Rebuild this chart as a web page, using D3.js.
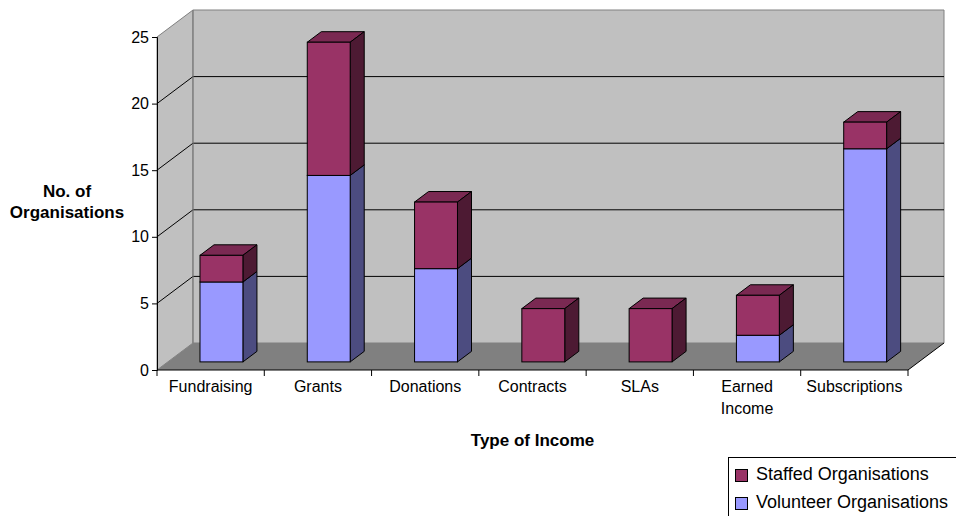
<!DOCTYPE html>
<html>
<head>
<meta charset="utf-8">
<script src="https://cdn.jsdelivr.net/npm/d3@7"></script>
<style>
  html, body { margin: 0; padding: 0; background: #fff; }
  svg { display: block; font-family: "Liberation Sans", Arial, sans-serif; }
</style>
</head>
<body>
<svg id="chart" width="956" height="516"></svg>
<script>
// Income types and number of organisations receiving each
const categories = ["Fundraising", "Grants", "Donations", "Contracts", "SLAs", "Earned Income", "Subscriptions"];
const categoryLines = [["Fundraising"], ["Grants"], ["Donations"], ["Contracts"], ["SLAs"], ["Earned", "Income"], ["Subscriptions"]];
const volunteer = [6, 14, 7, 0, 0, 2, 16];
const staffed = [2, 10, 5, 4, 4, 3, 2];
const yTicks = [0, 5, 10, 15, 20, 25];
const seriesNames = ["Staffed Organisations", "Volunteer Organisations"];

const svg = d3.select("#chart");

// plot frame (front face of the 3D box) and its depth offset
const left = 157, right = 908, floorY = 370, topY = 37;
const depthX = 36, depthY = -27;

const x = d3.scaleBand().domain(categories).range([left, right]).padding(0);
const y = d3.scaleLinear().domain([0, 25]).range([floorY, topY]);

const colors = {
  staffed: { front: "#993366", top: "#7a2952", side: "#4d1a33" },
  volunteer: { front: "#9999ff", top: "#7a7acc", side: "#4c4c80" }
};

const pts = a => a.map(p => p.join(",")).join(" ");

// walls and floor
const g = svg.append("g");
g.append("polygon")
  .attr("points", pts([[left, floorY], [left + depthX, floorY + depthY], [left + depthX, topY + depthY], [left, topY]]))
  .attr("fill", "#c0c0c0").attr("stroke", "#808080");
g.append("polygon")
  .attr("points", pts([[left + depthX, topY + depthY], [right + depthX, topY + depthY], [right + depthX, floorY + depthY], [left + depthX, floorY + depthY]]))
  .attr("fill", "#c0c0c0").attr("stroke", "#808080");
g.append("polygon")
  .attr("points", pts([[left, floorY], [right, floorY], [right + depthX, floorY + depthY], [left + depthX, floorY + depthY]]))
  .attr("fill", "#808080").attr("stroke", "none");

// gridlines on side and back wall
yTicks.filter(t => t > 0 && t < 25).forEach(t => {
  const yy = y(t);
  g.append("polyline")
    .attr("points", pts([[left, yy], [left + depthX, yy + depthY], [right + depthX, yy + depthY]]))
    .attr("fill", "none").attr("stroke", "#000").attr("stroke-width", 1);
});
// back wall corner edge
g.append("line")
  .attr("x1", left + depthX).attr("x2", left + depthX)
  .attr("y1", topY + depthY).attr("y2", floorY + depthY)
  .attr("stroke", "#808080");
// floor right edge
g.append("line")
  .attr("x1", right).attr("y1", floorY).attr("x2", right + depthX).attr("y2", floorY + depthY)
  .attr("stroke", "#000");

// y axis
const yAxis = d3.axisLeft(y).tickValues(yTicks).tickSize(5).tickPadding(3).tickFormat(d3.format("d"));
const ya = svg.append("g").attr("transform", `translate(${left},0)`).call(yAxis);
ya.select(".domain").attr("stroke", "#000");
ya.selectAll("text").attr("font-size", 16).attr("fill", "#000")
  .attr("font-family", "'Liberation Sans', Arial, sans-serif");

// x axis line with ticks at category boundaries
const xa = svg.append("g");
xa.append("line").attr("x1", left).attr("x2", right).attr("y1", floorY).attr("y2", floorY).attr("stroke", "#000");
const bounds = categories.map(c => x(c)).concat([right]);
xa.selectAll("line.tk").data(bounds).join("line").attr("class", "tk")
  .attr("x1", d => d).attr("x2", d => d).attr("y1", floorY).attr("y2", floorY + 6).attr("stroke", "#000");
xa.selectAll("text.cat").data(categories).join("text").attr("class", "cat")
  .attr("x", d => x(d) + x.bandwidth() / 2)
  .attr("y", floorY + 22)
  .attr("text-anchor", "middle").attr("font-size", 16).attr("fill", "#000")
  .each(function (d, i) {
    d3.select(this).selectAll("tspan").data(categoryLines[i]).join("tspan")
      .attr("x", x(d) + x.bandwidth() / 2)
      .attr("dy", (l, j) => j === 0 ? 0 : 22)
      .text(l => l);
  });

// 3D stacked bars
const barW = x.bandwidth() * 0.4;
const f0 = 0.3, f1 = 0.69;
const ox = depthX * f0, oy = depthY * f0;
const sx = depthX * (f1 - f0), sy = depthY * (f1 - f0);

const bars = svg.append("g");
categories.forEach((c, i) => {
  const x0 = x(c) + (x.bandwidth() - barW) / 2 + ox;
  const x1 = x0 + barW;
  const segs = [
    { v0: 0, v1: volunteer[i], col: colors.volunteer },
    { v0: volunteer[i], v1: volunteer[i] + staffed[i], col: colors.staffed }
  ];
  segs.forEach(s => {
    if (s.v1 - s.v0 <= 0) return;
    const yb = y(s.v0) + oy, yt = y(s.v1) + oy;
    bars.append("polygon")
      .attr("points", pts([[x0, yt], [x1, yt], [x1 + sx, yt + sy], [x0 + sx, yt + sy]]))
      .attr("fill", s.col.top).attr("stroke", "#000").attr("stroke-width", 1).attr("stroke-linejoin", "round");
    bars.append("polygon")
      .attr("points", pts([[x1, yb], [x1 + sx, yb + sy], [x1 + sx, yt + sy], [x1, yt]]))
      .attr("fill", s.col.side).attr("stroke", "#000").attr("stroke-width", 1).attr("stroke-linejoin", "round");
    bars.append("rect")
      .attr("x", x0).attr("y", yt).attr("width", barW).attr("height", yb - yt)
      .attr("fill", s.col.front).attr("stroke", "#000").attr("stroke-width", 1);
  });
});

// axis titles
svg.append("text").attr("x", 67).attr("y", 197).attr("text-anchor", "middle")
  .attr("font-size", 17).attr("font-weight", "bold").text("No. of");
svg.append("text").attr("x", 67).attr("y", 218).attr("text-anchor", "middle")
  .attr("font-size", 17).attr("font-weight", "bold").text("Organisations");
svg.append("text").attr("x", (left + right) / 2).attr("y", 446).attr("text-anchor", "middle")
  .attr("font-size", 17).attr("font-weight", "bold").text("Type of Income");

// legend
const lg = svg.append("g");
lg.append("rect").attr("x", 728.5).attr("y", 457.5).attr("width", 240).attr("height", 70)
  .attr("fill", "#fff").attr("stroke", "#000");
const legendColors = [colors.staffed.front, colors.volunteer.front];
seriesNames.forEach((n, i) => {
  const yy = 469 + i * 28;
  lg.append("rect").attr("x", 735.5).attr("y", yy + 0.5).attr("width", 12).attr("height", 12)
    .attr("fill", legendColors[i]).attr("stroke", "#000");
  lg.append("text").attr("x", 756).attr("y", yy + 11).attr("font-size", 18).text(n);
});
</script>
</body>
</html>
